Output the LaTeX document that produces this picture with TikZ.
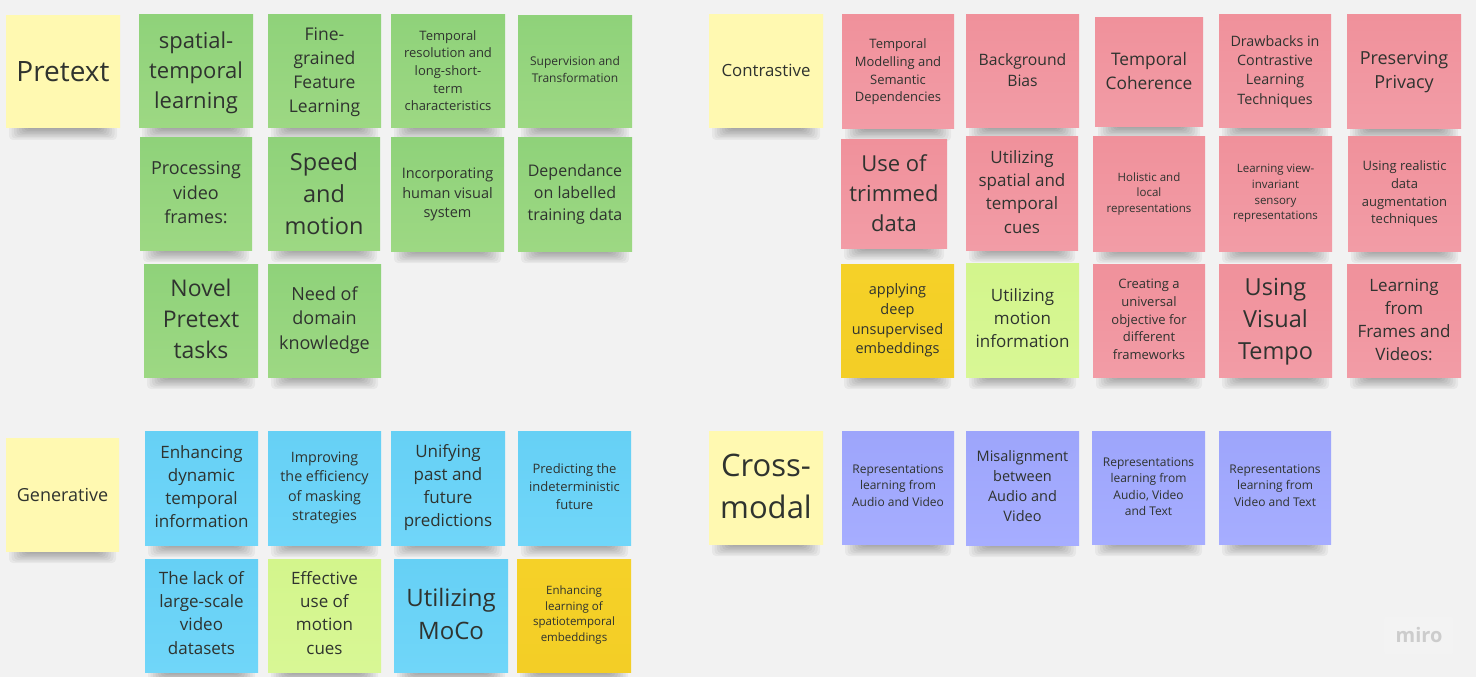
\documentclass[tikz,border=0pt]{standalone}
\usepackage{fontspec}
\setmainfont{Open Sans}
\definecolor{bg}{HTML}{F2F2F2}
\definecolor{ink}{HTML}{2F332F}
\definecolor{yellowA}{HTML}{FFF9B1}
\definecolor{greenA}{HTML}{8FD27A}
\definecolor{greenB}{HTML}{9DD883}
\definecolor{redA}{HTML}{F0919B}
\definecolor{redB}{HTML}{F29CA6}
\definecolor{blueA}{HTML}{66D0F5}
\definecolor{blueB}{HTML}{70D6F9}
\definecolor{purpleA}{HTML}{9DA5FB}
\definecolor{purpleB}{HTML}{A6ADFF}
\definecolor{orangeA}{HTML}{F5D128}
\definecolor{orangeB}{HTML}{F3CE26}
\definecolor{limeA}{HTML}{D3F58C}
\definecolor{limeB}{HTML}{D8F795}
\tikzset{x=.75pt,y=-.75pt,
 yellownote/.style={top color=yellowA,bottom color=yellowA},
 greennote/.style={top color=greenA,bottom color=greenB},
 rednote/.style={top color=redA,bottom color=redB},
 bluenote/.style={top color=blueA,bottom color=blueB},
 purplenote/.style={top color=purpleA,bottom color=purpleB},
 orangenote/.style={top color=orangeA,bottom color=orangeB},
 limenote/.style={top color=limeA,bottom color=limeB},
 notebody/.style={inner sep=0pt,rectangle},
 notetext/.style={align=center,text=ink,inner sep=0pt,rectangle}
}
% name, x0,y0,x1,y1, style, font px, text, text dy
\newcommand{\sticky}[9]{%
 \foreach \i in {0,...,7}{
  \fill[black,opacity=.045,rounded corners=3pt]
   ({#2+3+\i*2.5},{#5-3}) rectangle ({#4-3-\i*2.5},{#5+12-\i*1.5});
 }
 \pgfmathsetmacro{\cx}{(#2+#4)/2}\pgfmathsetmacro{\cy}{(#3+#5)/2}
 \pgfmathsetmacro{\ty}{\cy+#9}
 \pgfmathsetmacro{\nw}{(#4-#2)*.75}\pgfmathsetmacro{\nh}{(#5-#3)*.75}
 \pgfmathsetmacro{\fs}{#7*.75}\pgfmathsetmacro{\ls}{#7*.75*1.36}
 \node[notebody,#6,minimum width=\nw pt,minimum height=\nh pt] (#1) at (\cx,\cy) {};
 \node[notetext,font=\fontsize{\fs pt}{\ls pt}\selectfont] (#1-text) at (\cx,\ty) {#8};
}
\begin{document}
\begin{tikzpicture}
\fill[bg] (0,0) rectangle (1476,677);
\useasboundingbox (0,0) rectangle (1476,677);
\sticky{pretext}{6}{16}{120}{128}{yellownote}{28}{Pretext}{0}
\sticky{g1}{139}{15}{253}{128}{greennote}{22}{spatial-\\temporal\\learning}{1}
\sticky{g2}{268}{15}{381}{128}{greennote}{17.5}{Fine-\\grained\\Feature\\Learning}{.5}
\sticky{g3}{391}{15}{505}{128}{greennote}{13}{Temporal\\resolution and\\long-short-\\term\\characteristics}{-1}
\sticky{g4}{518}{16}{632}{128}{greennote}{12}{Supervision and\\Transformation}{-2.5}
\sticky{g5}{140}{138}{252}{250}{greennote}{18}{Processing\\video\\frames:}{-1}
\sticky{g6}{268}{138}{380}{250}{greennote}{23.5}{Speed\\and\\motion}{-.5}
\sticky{g7}{391}{138}{504}{251}{greennote}{14.5}{Incorporating\\human visual\\system}{0}
\sticky{g8}{518}{138}{632}{251}{greennote}{16}{Dependance\\on labelled\\training data}{0}
\sticky{g9}{144}{264}{258}{377}{greennote}{23}{Novel\\Pretext\\tasks}{-1.5}
\sticky{g10}{268}{264}{381}{377}{greennote}{18}{Need of\\domain\\knowledge}{-.5}
\sticky{generative}{6}{438}{119}{551}{yellownote}{18}{Generative}{0}
\sticky{b1}{145}{431}{258}{545}{bluenote}{17}{Enhancing\\dynamic\\temporal\\information}{-1.5}
\sticky{b2}{268}{431}{381}{545}{bluenote}{14.3}{Improving\\the efficiency\\of masking\\strategies}{0}
\sticky{b3}{391}{431}{505}{545}{bluenote}{17}{Unifying\\past and\\future\\predictions}{-.5}
\sticky{b4}{518}{431}{631}{545}{bluenote}{13}{Predicting the\\indeterministic\\future}{-1.5}
\sticky{b5}{145}{559}{258}{672}{bluenote}{17}{The lack of\\large-scale\\video\\datasets}{-2.5}
\sticky{b6}{268}{559}{381}{672}{limenote}{17}{Effective\\use of\\motion\\cues}{-2.5}
\sticky{b7}{394}{559}{508}{672}{bluenote}{24}{Utilizing\\MoCo}{-1.5}
\sticky{b8}{517}{559}{631}{672}{orangenote}{11.5}{Enhancing\\learning of\\spatiotemporal\\embeddings}{-.5}
\sticky{contrastive}{709}{15}{823}{128}{yellownote}{16.8}{Contrastive}{-1}
\sticky{r1}{842}{15}{954}{129}{rednote}{13}{Temporal\\Modelling and\\Semantic\\Dependencies}{0}
\sticky{r2}{966}{15}{1079}{128}{rednote}{15.7}{Background\\Bias}{-1.5}
\sticky{r3}{1095}{18}{1203}{127}{rednote}{17.3}{Temporal\\Coherence}{-1.5}
\sticky{r4}{1219}{15}{1331}{128}{rednote}{14.3}{Drawbacks in\\Contrastive\\Learning\\Techniques}{0}
\sticky{r5}{1347}{15}{1461}{129}{rednote}{18}{Preserving\\Privacy}{0}
\sticky{r6}{841}{140}{947}{248}{rednote}{22}{Use of\\trimmed\\data}{-1}
\sticky{r7}{966}{137}{1078}{250}{rednote}{17}{Utilizing\\spatial and\\temporal\\cues}{-1.5}
\sticky{r8}{1093}{137}{1205}{251}{rednote}{11.5}{Holistic and\\local\\representations}{0}
\sticky{r9}{1219}{137}{1332}{251}{rednote}{11.5}{Learning view-\\invariant\\sensory\\representations}{-.5}
\sticky{r10}{1348}{137}{1461}{251}{rednote}{13}{Using realistic\\data\\augmentation\\techniques}{0}
\sticky{o1}{841}{264}{954}{377}{orangenote}{14.5}{applying\\deep\\unsupervised\\embeddings}{0}
\sticky{l1}{966}{263}{1079}{377}{limenote}{17}{Utilizing\\motion\\information}{-1.5}
\sticky{r11}{1093}{264}{1205}{377}{rednote}{13}{Creating a\\universal\\objective for\\different\\frameworks}{-1}
\sticky{r12}{1219}{264}{1332}{377}{rednote}{23.5}{Using\\Visual\\Tempo}{1}
\sticky{r13}{1347}{264}{1461}{377}{rednote}{17}{Learning\\from\\Frames and\\Videos:}{-.5}
\sticky{crossmodal}{709}{431}{823}{544}{yellownote}{31}{Cross-\\modal}{-1}
\sticky{p1}{842}{431}{954}{544}{purplenote}{12}{Representations\\learning from\\Audio and Video}{-2}
\sticky{p2}{966}{431}{1079}{545}{purplenote}{14.5}{Misalignment\\between\\Audio and\\Video}{-2}
\sticky{p3}{1092}{431}{1205}{544}{purplenote}{12}{Representations\\learning from\\Audio, Video\\and Text}{-1}
\sticky{p4}{1219}{431}{1331}{544}{purplenote}{12}{Representations\\learning from\\Video and Text}{-2}
\fill[white,opacity=.15,rounded corners=2pt] (1384,617) rectangle (1453,654);
\node[text=black!20,font=\fontsize{15}{17}\selectfont\bfseries,inner sep=0pt] (miro) at (1419,635) {miro};
\end{tikzpicture}
\end{document}
